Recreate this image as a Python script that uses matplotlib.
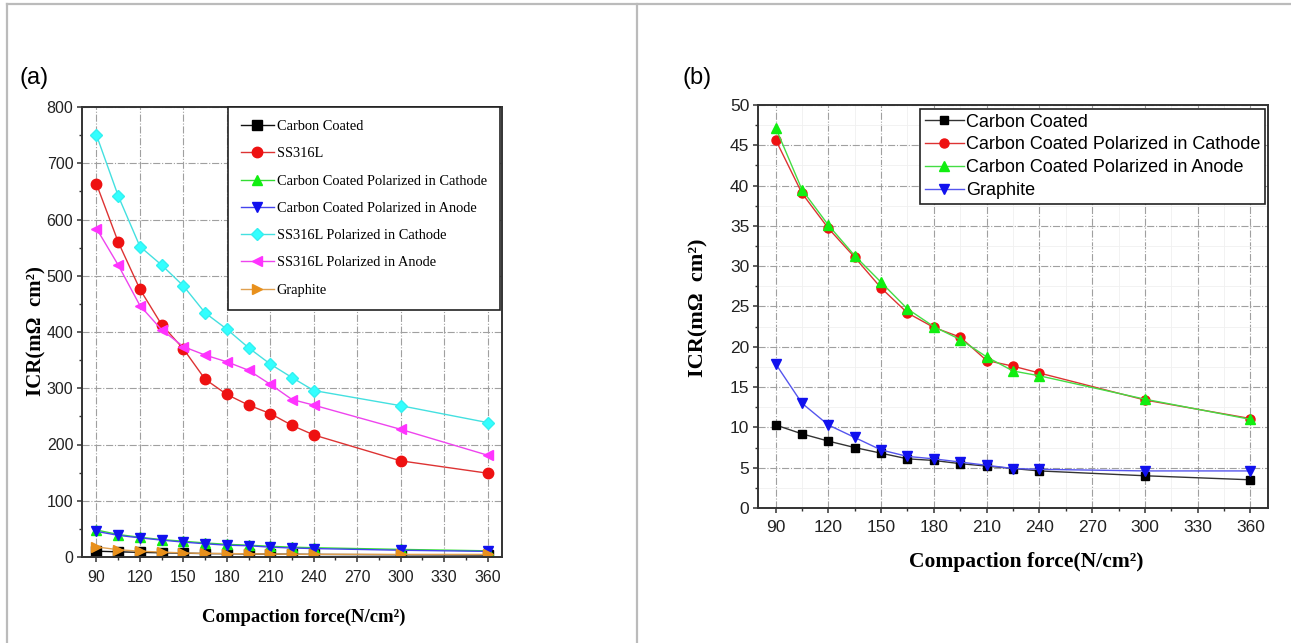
import matplotlib
matplotlib.use('Agg')
import matplotlib.pyplot as plt
from matplotlib.lines import Line2D
from matplotlib.ticker import MultipleLocator

# compaction force (N/cm2)
force = [90, 105, 120, 135, 150, 165, 180, 195, 210, 225, 240, 300, 360]

# panel (a) - ICR values
a_carbon = [10.3, 9.2, 8.3, 7.5, 6.8, 6.1, 5.9, 5.5, 5.2, 4.9, 4.6, 4.0, 3.5]
a_ss316 = [663, 560, 476, 413, 370, 316, 289, 270, 255, 234, 217, 171, 149]
a_cc_cath = [48, 40, 35, 31, 28, 25, 22.5, 21, 19, 17.5, 16.5, 13.5, 11]
a_cc_anod = [45.5, 38.5, 34, 30, 26.5, 23.5, 21, 20, 17.5, 16, 15, 12, 10]
a_ss_cath = [750, 642, 552, 519, 482, 434, 405, 372, 343, 319, 296, 269, 239]
a_ss_anod = [584, 519, 447, 404, 374, 359, 347, 332, 307, 280, 270, 227, 181]
a_graphite = [17.9, 13.0, 10.3, 8.75, 7.2, 6.4, 6.1, 5.7, 5.3, 4.9, 4.8, 4.6, 4.6]

# panel (b)
b_carbon = [10.3, 9.2, 8.3, 7.5, 6.8, 6.1, 5.9, 5.5, 5.2, 4.9, 4.6, 4.0, 3.5]
b_cc_cath = [45.7, 39.05, 34.7, 31.1, 27.3, 24.2, 22.4, 21.2, 18.3, 17.6, 16.75, 13.4, 11.1]
b_cc_anod = [47.2, 39.5, 35.1, 31.3, 28.0, 24.7, 22.5, 20.9, 18.75, 17.0, 16.4, 13.5, 11.0]
b_graphite = [17.9, 13.0, 10.3, 8.75, 7.2, 6.4, 6.1, 5.7, 5.3, 4.9, 4.8, 4.6, 4.6]

W, H = 1291, 643
fig = plt.figure(figsize=(W/100, H/100), dpi=100)

def box(l, t, r, b):
    # pixel box -> figure fraction
    return [l/W, 1-b/H, (r-l)/W, (b-t)/H]

# table frame lines
fig.add_artist(Line2D([7/W, 1], [1-4/H, 1-4/H], color='#bbbbbb', lw=1.6))
fig.add_artist(Line2D([7/W, 7/W], [0, 1-4/H], color='#bbbbbb', lw=1.6))
fig.add_artist(Line2D([637/W, 637/W], [0, 1-4/H], color='#bbbbbb', lw=1.6))

serif = 'Liberation Serif'
sans = 'Liberation Sans'

def style_axes(ax, tick_fs, xpad):
    for s in ax.spines.values():
        s.set_color('#333333')
        s.set_linewidth(1.4)
    ax.tick_params(which='major', direction='out', length=3.8, width=1.1, color='#333333',
                   pad=2.5, labelsize=tick_fs, labelcolor='#222222')
    ax.tick_params(axis='x', which='major', pad=xpad)
    ax.tick_params(which='minor', direction='out', length=2.2, width=1.0, color='#333333')
    for lab in ax.get_xticklabels() + ax.get_yticklabels():
        lab.set_family(sans)
    ax.grid(True, which='major', ls='-.', color='#a0a0a0', lw=0.8)
    ax.grid(True, which='minor', ls='-', color='#f0f0f0', lw=0.6)
    ax.set_axisbelow(True)

# ---------------- panel (a)
ax1 = fig.add_axes(box(82, 107, 502, 557))
ms = 7.5
ax1.plot(force, a_carbon, '-s', color='#111111', mfc='black', mec='black', ms=ms-1, lw=1, label='Carbon Coated')
ax1.plot(force, a_ss316, '-o', color='#dd3333', mfc='#ee1111', mec='#ee1111', ms=ms, lw=1, label='SS316L')
ax1.plot(force, a_cc_cath, '-^', color='#33dd33', mfc='#11ee11', mec='#11ee11', ms=ms, lw=1, label='Carbon Coated Polarized in Cathode')
ax1.plot(force, a_cc_anod, '-v', color='#4444ee', mfc='#1111ee', mec='#1111ee', ms=ms, lw=1, label='Carbon Coated Polarized in Anode')
ax1.plot(force, a_ss_cath, '-D', color='#44e0e0', mfc='#33ffff', mec='#33f0f0', ms=ms-1, lw=1, label='SS316L Polarized in Cathode')
ax1.plot(force, a_ss_anod, '-<', color='#ee44ee', mfc='#ff33ff', mec='#ff33ff', ms=ms, lw=1, label='SS316L Polarized in Anode')
ax1.plot(force, a_graphite, '->', color='#e0a050', mfc='#e8901c', mec='#e8901c', ms=ms, lw=1, label='Graphite')
ax1.set_xlim(80, 370)
ax1.set_ylim(0, 800)
ax1.set_xticks(range(90, 361, 30))
ax1.set_yticks(range(0, 801, 100))
ax1.xaxis.set_minor_locator(MultipleLocator(15))
ax1.yaxis.set_minor_locator(MultipleLocator(50))
style_axes(ax1, 11.5, 5.5)
ax1.grid(False, which='minor')
ax1.set_xlabel('Compaction force(N/cm²)', family=serif, weight='bold', fontsize=13.5, va='center')
ax1.xaxis.set_label_coords(0.529, -(617-557)/450)
ax1.set_ylabel('ICR(mΩ  cm²)', family=serif, weight='bold', fontsize=15, va='center')
ax1.yaxis.set_label_coords((36-82)/420, 1-(331-107)/450)
leg1 = ax1.legend(loc='upper right', bbox_to_anchor=(1-2/420, 1), borderaxespad=0,
                  prop={'family': serif, 'size': 10.4}, frameon=True, fancybox=False,
                  edgecolor='#222222', framealpha=1, handlelength=2.3, handletextpad=0.2,
                  labelspacing=0.98, borderpad=0.9)
leg1.get_frame().set_linewidth(1.2)
fig.text(34/W, 1-78/H, '(a)', family=sans, fontsize=17, ha='center', va='center')

# ---------------- panel (b)
ax2 = fig.add_axes(box(758, 105, 1268, 508))
ms = 6.5
ax2.plot(force, b_carbon, '-s', color='#333333', mfc='black', mec='black', ms=ms-0.5, lw=1, label='Carbon Coated')
ax2.plot(force, b_cc_cath, '-o', color='#dd3333', mfc='#ee1111', mec='#ee1111', ms=ms, lw=1, label='Carbon Coated Polarized in Cathode')
ax2.plot(force, b_cc_anod, '-^', color='#44dd44', mfc='#11ee11', mec='#11ee11', ms=ms+0.5, lw=1, label='Carbon Coated Polarized in Anode')
ax2.plot(force, b_graphite, '-v', color='#5555ee', mfc='#1111ee', mec='#1111ee', ms=ms+0.5, lw=1, label='Graphite')
ax2.set_xlim(80, 370)
ax2.set_ylim(0, 50)
ax2.set_xticks(range(90, 361, 30))
ax2.set_yticks(range(0, 51, 5))
ax2.xaxis.set_minor_locator(MultipleLocator(15))
ax2.yaxis.set_minor_locator(MultipleLocator(2.5))
style_axes(ax2, 12.5, 4.5)
ax2.set_xlabel('Compaction force(N/cm²)', family=serif, weight='bold', fontsize=15.5, va='center')
ax2.xaxis.set_label_coords((1026-758)/510, -(562-508)/403)
ax2.set_ylabel('ICR(mΩ  cm²)', family=serif, weight='bold', fontsize=16, va='center')
ax2.yaxis.set_label_coords((698-758)/510, 1-(308-105)/403)
leg2 = ax2.legend(loc='upper right', bbox_to_anchor=(1-3/510, 1-4/403), borderaxespad=0,
                  prop={'family': sans, 'size': 13}, frameon=True, fancybox=False,
                  edgecolor='#222222', framealpha=1, handlelength=2.2, handletextpad=0.1,
                  labelspacing=0.33, borderpad=0.25)
leg2.get_frame().set_linewidth(1.2)
fig.text(697/W, 1-78/H, '(b)', family=sans, fontsize=17, ha='center', va='center')

fig.savefig('out.png', dpi=100)
